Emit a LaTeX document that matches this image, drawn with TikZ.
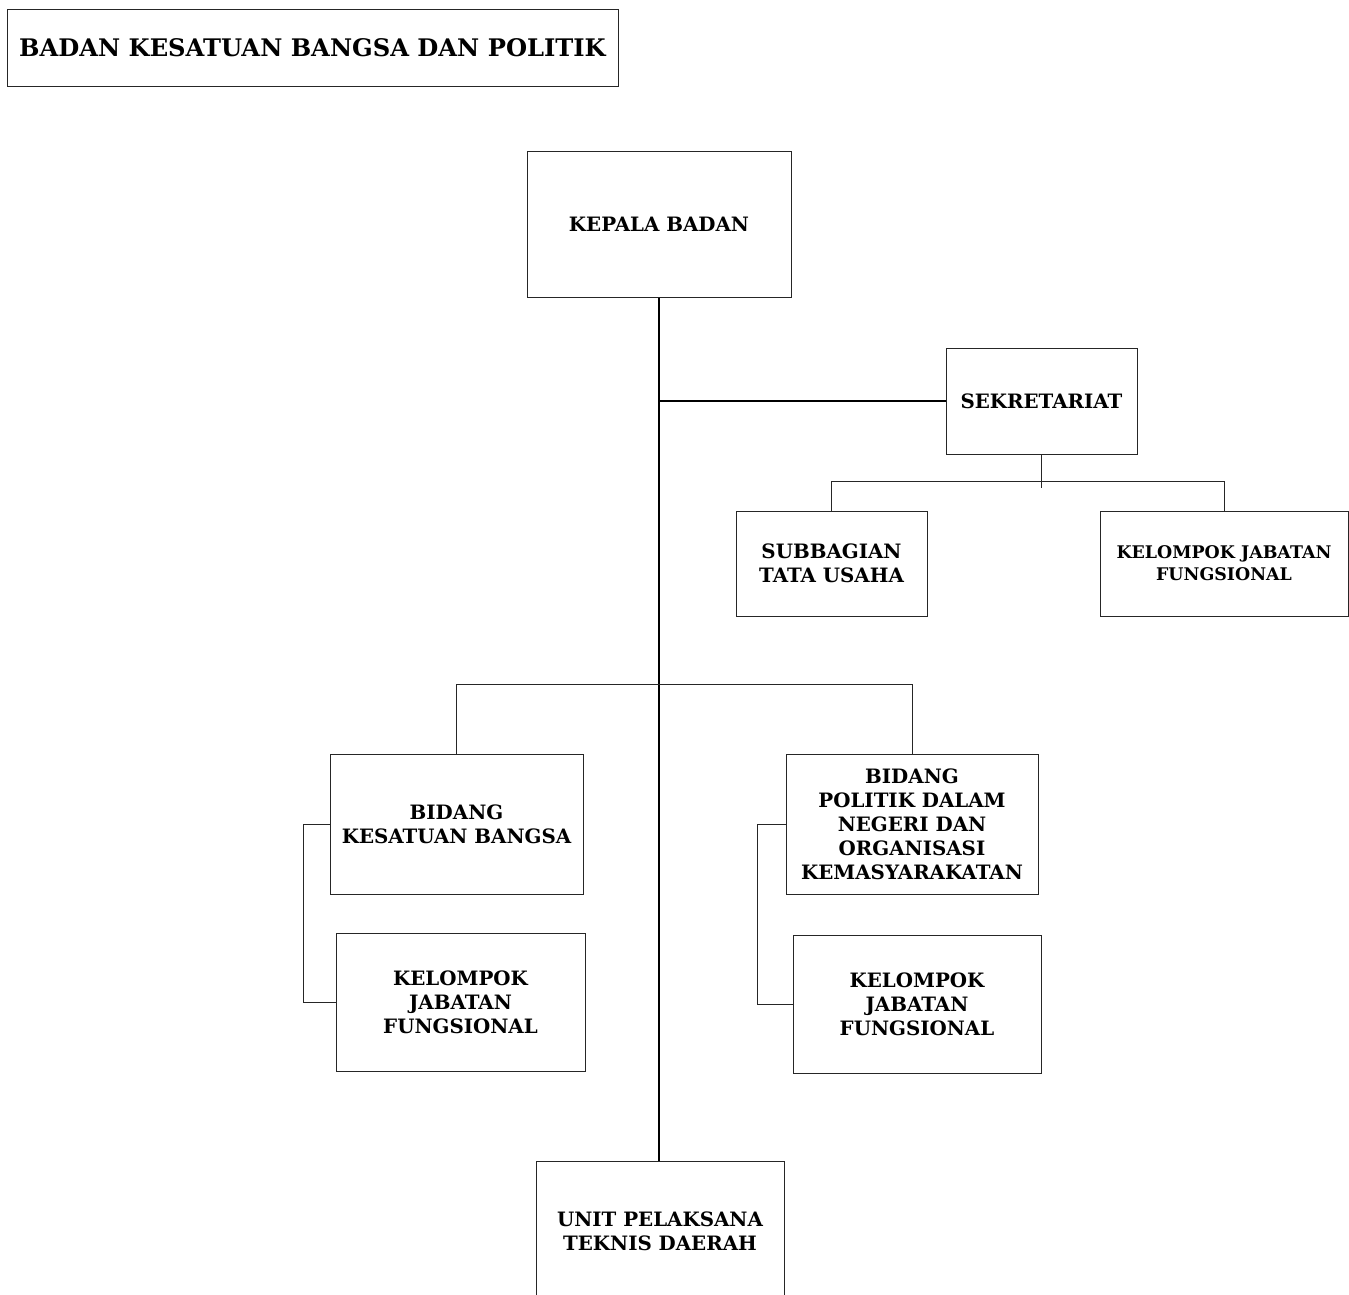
\documentclass[tikz,border=0pt]{standalone}
\usepackage{fontspec}
\setmainfont{DejaVu Serif}
\begin{document}
\begin{tikzpicture}[x=1pt,y=-1pt,
  box/.style={draw=black!85,line width=1pt,inner sep=0pt,align=center,
    font=\fontsize{19.8}{24}\selectfont\bfseries},
  link/.style={draw=black,line width=1.3pt},
  thin/.style={draw=black!85,line width=1pt}]
\useasboundingbox (0,0) rectangle (1349,1294);
\clip (0,0) rectangle (1349,1294);
\node[box,minimum width=611,minimum height=77,font=\fontsize{24.2}{28}\selectfont\bfseries] (title) at (312.5,47.5) {BADAN KESATUAN BANGSA DAN POLITIK};
\node[box,minimum width=264,minimum height=146] (kep) at (659,224) {KEPALA BADAN};
\node[box,minimum width=191,minimum height=106] (sek) at (1041.5,401) {SEKRETARIAT};
\node[box,minimum width=191,minimum height=105] (sub) at (831.5,563.5) {SUBBAGIAN\\TATA USAHA};
\node[box,minimum width=248,minimum height=105,font=\fontsize{17.4}{22}\selectfont\bfseries] (kjf) at (1224,563.5) {KELOMPOK JABATAN\\FUNGSIONAL};
\node[box,minimum width=253,minimum height=140] (bkb) at (456.5,824) {BIDANG\\KESATUAN BANGSA};
\node[box,minimum width=249,minimum height=138] (kjfl) at (460.5,1002) {KELOMPOK\\JABATAN\\FUNGSIONAL};
\node[box,minimum width=252,minimum height=140] (bpd) at (912,824) {BIDANG\\POLITIK DALAM\\NEGERI DAN\\ORGANISASI\\KEMASYARAKATAN};
\node[box,minimum width=248,minimum height=138] (kjfr) at (917,1004) {KELOMPOK\\JABATAN\\FUNGSIONAL};
\node[box,minimum width=248,minimum height=140] (upt) at (660,1231) {UNIT PELAKSANA\\TEKNIS DAERAH};
% main trunk
\draw[link] (kep.south) -- (kep.south |- upt.north);
\coordinate (j1) at (kep.south |- sek.west);
\draw[link] (j1) -- (sek.west);
% sekretariat branch
\coordinate (sb) at (sek.south |- 0,481);
\coordinate (sbend) at (sek.south |- 0,488);
\draw[thin] (sek.south) -- (sbend);
\draw[thin] (sub.north) -- (sub.north |- sb) -- (kjf.north |- sb) -- (kjf.north);
% bidang branch
\coordinate (bb) at (kep.south |- 0,684);
\draw[thin] (bkb.north) -- (bkb.north |- bb) -- (bpd.north |- bb) -- (bpd.north);
% brackets
\draw[thin] (bkb.west) -- (303,824) -- (303,1002) -- (kjfl.west);
\draw[thin] (bpd.west) -- (757,824) -- (757,1004) -- (kjfr.west);
\end{tikzpicture}
\end{document}
